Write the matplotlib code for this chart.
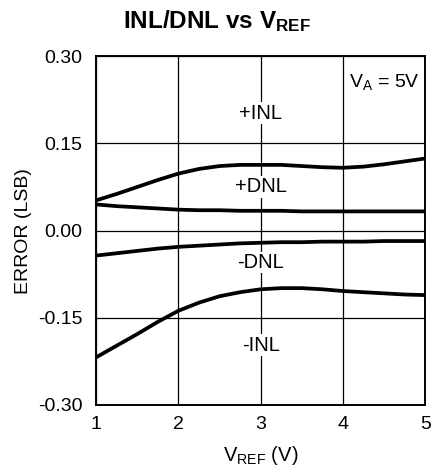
import numpy as np
import matplotlib
matplotlib.use('Agg')
import matplotlib.pyplot as plt

plt.rcParams['font.family'] = ['Liberation Sans', 'DejaVu Sans']
plt.rcParams['mathtext.default'] = 'regular'

# data
vref = [1.0, 1.25, 1.5, 1.75, 2.0, 2.25, 2.5, 2.75, 3.0, 3.25, 3.5, 3.75, 4.0, 4.25, 4.5, 4.75, 5.0]
pos_inl = [0.052, 0.063, 0.075, 0.087, 0.098, 0.106, 0.111, 0.113, 0.113, 0.113,
           0.111, 0.109, 0.108, 0.110, 0.114, 0.119, 0.124]
pos_dnl = [0.045, 0.042, 0.040, 0.038, 0.036, 0.035, 0.035, 0.034, 0.034, 0.034,
           0.033, 0.033, 0.033, 0.033, 0.033, 0.033, 0.033]
neg_dnl = [-0.043, -0.039, -0.035, -0.031, -0.028, -0.026, -0.024, -0.022, -0.021, -0.020,
           -0.020, -0.019, -0.019, -0.019, -0.018, -0.018, -0.018]
neg_inl = [-0.218, -0.198, -0.178, -0.157, -0.138, -0.124, -0.113, -0.106, -0.101, -0.099,
           -0.099, -0.101, -0.104, -0.106, -0.108, -0.110, -0.111]

xticks = [1, 2, 3, 4, 5]
yticks = [-0.30, -0.15, 0.00, 0.15, 0.30]
ytick_labels = ['-0.30', '-0.15', '0.00', '0.15', '0.30']

fig = plt.figure(figsize=(4.33, 4.72), dpi=100)
ax = fig.add_axes([0.222, 0.142, 0.760, 0.739])

for series in [pos_inl, pos_dnl, neg_dnl, neg_inl]:
    ax.plot(vref, series, color='black', linewidth=2.7, solid_capstyle='butt', zorder=3)

ax.set_xlim(1, 5)
ax.set_ylim(-0.30, 0.30)
ax.set_xticks(xticks)
ax.set_yticks(yticks)
ax.set_yticklabels(ytick_labels)
ax.tick_params(length=0, labelsize=14)
ax.tick_params(axis='y', pad=10)
ax.tick_params(axis='x', pad=8)
ax.grid(True, color='black', linewidth=0.9)
for s in ax.spines.values():
    s.set_linewidth(1.4)

bbox = dict(facecolor='white', edgecolor='none', pad=1)
ax.text(3, 0.202, '+INL', ha='center', va='center', fontsize=14.5, bbox=bbox, zorder=4)
ax.text(3, 0.075, '+DNL', ha='center', va='center', fontsize=14.5, bbox=bbox, zorder=4)
ax.text(3, -0.055, '-DNL', ha='center', va='center', fontsize=14.5, bbox=bbox, zorder=4)
ax.text(3, -0.197, '-INL', ha='center', va='center', fontsize=14.5, bbox=bbox, zorder=4)
ax.text(4.5, 0.255, '$V_A$ = 5V', ha='center', va='center', fontsize=14, bbox=bbox, zorder=4)

ax.set_xlabel('$V_{REF}$ (V)', fontsize=14.5, labelpad=8)
ax.set_ylabel('ERROR (LSB)', fontsize=14, labelpad=4)
fig.text(0.5, 0.955, 'INL/DNL vs $V_{REF}$', ha='center', va='center',
         fontsize=17.5, fontweight='bold')

fig.savefig('out.png', dpi=100)
